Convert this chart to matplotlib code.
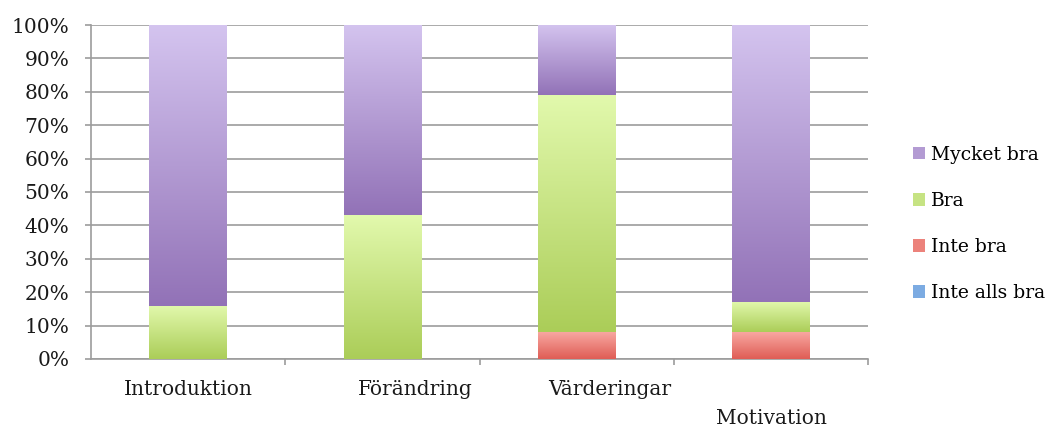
import numpy as np
import matplotlib
matplotlib.use("Agg")
import matplotlib.pyplot as plt
from matplotlib.patches import Patch
from matplotlib.colors import LinearSegmentedColormap, to_rgb
from matplotlib.transforms import ScaledTranslation

# Survey results, share of answers per rating (%)
categories = ["Introduktion", "Förändring", "Värderingar", "Motivation"]
inte_alls_bra = [0, 0, 0, 0]
inte_bra = [0, 0, 8, 8]
bra = [16, 43, 71, 9]
mycket_bra = [84, 57, 21, 83]
y_ticks = [0, 10, 20, 30, 40, 50, 60, 70, 80, 90, 100]

series = [
    ("Inte alls bra", inte_alls_bra, ("#9cc3ee", "#5b93d6")),
    ("Inte bra", inte_bra, ("#f8a7a1", "#df5d55")),
    ("Bra", bra, ("#e2f9ad", "#abcd58")),
    ("Mycket bra", mycket_bra, ("#d4c4ef", "#9272b7")),
]

plt.rcParams["font.family"] = ["DejaVu Serif"]
fig = plt.figure(figsize=(10.51, 4.26), dpi=100)
ax = fig.add_axes([0.0866, 0.1573, 0.7394, 0.7840])

x = np.arange(len(categories))
width = 0.4
bottom = np.zeros(len(categories))
grad = np.linspace(0, 1, 256).reshape(-1, 1)
for name, vals, (top_c, bot_c) in series:
    vals = np.asarray(vals, dtype=float)
    bars = ax.bar(x, vals, width, bottom=bottom, color="none",
                  edgecolor="none", zorder=3)
    cmap = LinearSegmentedColormap.from_list(name, [bot_c, top_c])
    for rect in bars:
        h = rect.get_height()
        if h <= 0:
            continue
        x0, y0 = rect.get_x(), rect.get_y()
        im = ax.imshow(grad, cmap=cmap, origin="lower", aspect="auto",
                       extent=(x0, x0 + rect.get_width(), y0, y0 + h),
                       zorder=3, interpolation="bilinear")
        im.set_clip_path(rect)
    bottom += vals

ax.set_xlim(-0.5, len(categories) - 0.5)
ax.set_ylim(0, 100)

# Grid and axes styling
grid_c = "#9c9c9c"
ax.set_yticks(y_ticks)
ax.set_yticklabels([f"{t}%" for t in y_ticks])
ax.yaxis.grid(True, color=grid_c, linewidth=1.2, zorder=0)
ax.set_axisbelow(True)
for side in ("top", "right"):
    ax.spines[side].set_visible(False)
for side in ("left", "bottom"):
    ax.spines[side].set_color(grid_c)
    ax.spines[side].set_linewidth(1.2)
ax.tick_params(axis="y", length=4.5, width=1.2, color=grid_c,
               pad=11, labelsize=14.5, labelcolor="#1a1a1a")

ax.set_xticks(x)
ax.set_xticklabels(categories)
ax.set_xticks(np.arange(len(categories)) + 0.5, minor=True)
ax.tick_params(axis="x", which="major", length=0, pad=15, labelsize=14.5,
               labelcolor="#1a1a1a")
ax.tick_params(axis="x", which="minor", length=4.5, width=1.2,
               color=grid_c)

offsets = [(0, 0), (33, 0), (33, 0), (0, -29)]
for lab, (dx, dy) in zip(ax.get_xticklabels(), offsets):
    lab.set_transform(lab.get_transform() +
                      ScaledTranslation(dx / 100, dy / 100, fig.dpi_scale_trans))

handles = [Patch(facecolor=(np.array(to_rgb(t)) + np.array(to_rgb(b))) / 2,
                 label=name)
           for name, _, (t, b) in reversed(series)]
fig.legend(handles=handles, loc="center left",
           bbox_to_anchor=(0.8687, 0.474), frameon=False,
           borderaxespad=0, borderpad=0,
           fontsize=13.5, handlelength=0.64, handleheight=0.64,
           handletextpad=0.32, labelspacing=1.5)

fig.savefig("out.png", dpi=100)
